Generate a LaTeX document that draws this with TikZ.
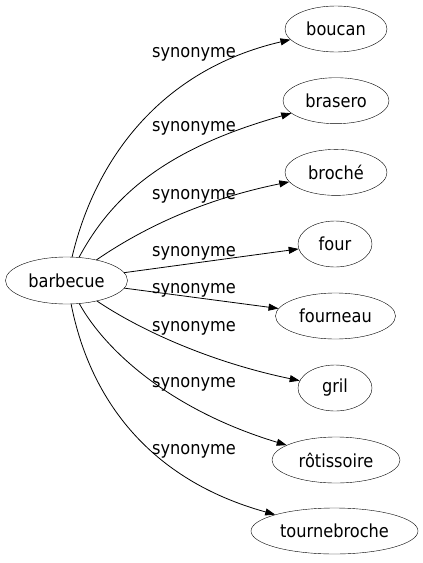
\documentclass[tikz,border=0pt]{standalone}
\usepackage{fontspec}
\setmainfont[FakeStretch=0.9]{DejaVu Sans}
\usetikzlibrary{shapes.geometric,arrows.meta}

\begin{document}
\begin{tikzpicture}[x=1pt, y=-1pt, line join = round, line cap = round,
    word/.style={draw, ellipse, inner sep=0pt, minimum height=46pt, font=\fontsize{18}{20}\selectfont},
    syn/.style={-{Triangle[length=10pt, width=7pt]}, line width=.8pt},
    synlabel/.style={anchor=base, inner sep=0pt, font=\fontsize{18}{20}\selectfont}]
\useasboundingbox (0,0) rectangle (423,563);

\node [word, minimum width=122pt, minimum height=47pt] (barbecue) at (66.5,280.5) {barbecue};

\node [word, minimum width=102pt] (boucan)       at (336,29)    {boucan};
\node [word, minimum width=106pt] (brasero)      at (336,100.7) {brasero};
\node [word, minimum width=102pt] (broche)       at (336,172.4) {broché};
\node [word, minimum width=74pt]  (four)         at (335,244)   {four};
\node [word, minimum width=120pt] (fourneau)     at (335.5,316) {fourneau};
\node [word, minimum width=74pt]  (gril)         at (335,388)   {gril};
\node [word, minimum width=128pt] (rotissoire)   at (336,460)   {rôtissoire};
\node [word, minimum width=167pt] (tournebroche) at (334.5,531) {tournebroche};

\draw[syn] (barbecue) .. controls (95,160) and (160,70) .. (boucan);
\draw[syn] (barbecue) .. controls (110,200) and (160,150) .. (brasero);
\draw[syn] (barbecue) .. controls (140,230) and (200,200) .. (broche);
\draw[syn] (barbecue) -- (four);
\draw[syn] (barbecue) -- (fourneau);
\draw[syn] (barbecue) .. controls (140,330) and (210,362) .. (gril);
\draw[syn] (barbecue) .. controls (105,350) and (170,410) .. (rotissoire);
\draw[syn] (barbecue) .. controls (90,400) and (150,480) .. (tournebroche);

\node [synlabel] (l-boucan)       at (194,57)  {synonyme};
\node [synlabel] (l-brasero)      at (194,131) {synonyme};
\node [synlabel] (l-broche)       at (194,199) {synonyme};
\node [synlabel] (l-four)         at (194,256) {synonyme};
\node [synlabel] (l-fourneau)     at (194,293) {synonyme};
\node [synlabel] (l-gril)         at (194,331) {synonyme};
\node [synlabel] (l-rotissoire)   at (194,387) {synonyme};
\node [synlabel] (l-tournebroche) at (194,454) {synonyme};

\end{tikzpicture}
\end{document}
